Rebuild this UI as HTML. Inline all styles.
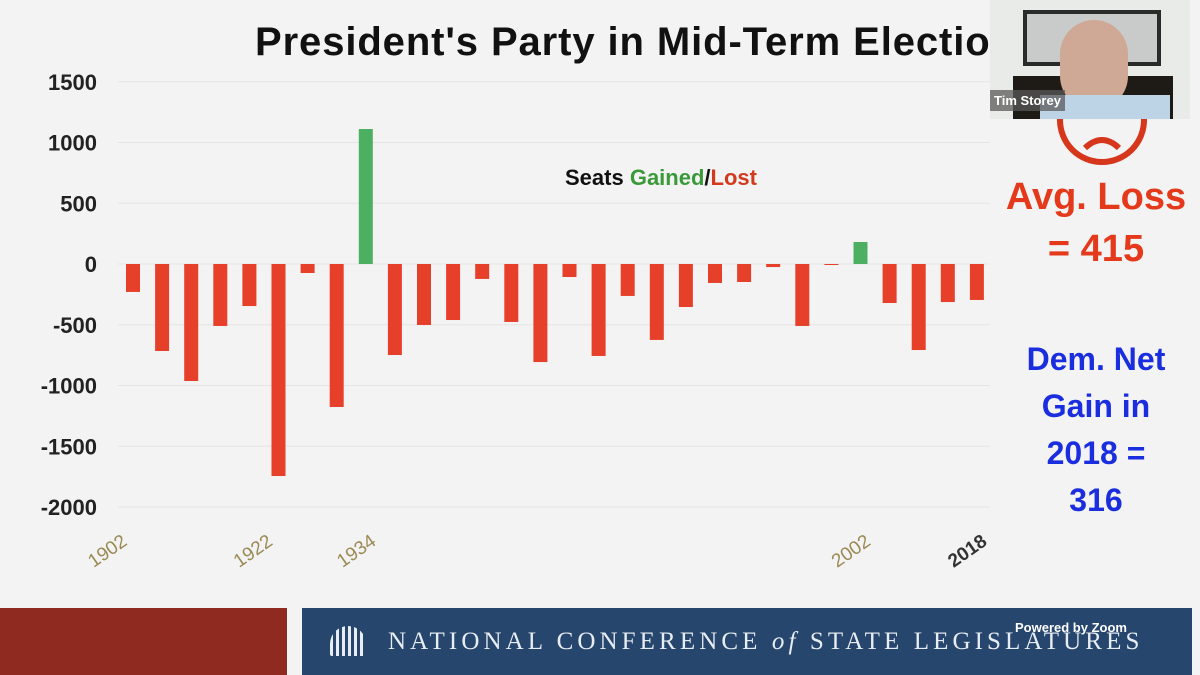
<!DOCTYPE html>
<html><head><meta charset="utf-8"><style>
body{margin:0;width:1200px;height:675px;overflow:hidden;background:#f3f3f3;font-family:"Liberation Sans",sans-serif;}
#root{position:relative;width:1200px;height:675px;}
.t{position:absolute;font-weight:bold;white-space:nowrap;}
</style></head><body><div id="root">
<svg id="chart" width="1200" height="675" style="position:absolute;left:0;top:0"></svg>
<div class="t" style="left:255px;top:20px;width:735px;overflow:hidden;font-size:40px;letter-spacing:0.9px;color:#111;">President's Party in Mid-Term Elections</div>
<div class="t" style="left:565px;top:165px;font-size:22px;color:#111;">Seats <span style="color:#3a9a3a">Gained</span>/<span style="color:#d23a1e">Lost</span></div>
<svg style="position:absolute;left:1055px;top:110px" width="95" height="60"><circle cx="47" cy="10" r="42" fill="none" stroke="#d6361c" stroke-width="6"/><circle cx="33" cy="5" r="3" fill="#d6361c"/><circle cx="61" cy="5" r="3" fill="#d6361c"/><path d="M30 38 Q47 22 64 38" fill="none" stroke="#d6361c" stroke-width="6"/></svg>
<div class="t" style="left:998px;top:171px;width:196px;text-align:center;font-size:38px;line-height:52px;color:#e4391b;">Avg. Loss<br>= 415</div>
<div class="t" style="left:998px;top:336px;width:196px;text-align:center;font-size:32px;line-height:47px;color:#1a2ee0;">Dem. Net<br>Gain in<br>2018 =<br>316</div>
<div style="position:absolute;left:990px;top:0;width:200px;height:119px;background:#e9ebe8;overflow:hidden">
<div style="position:absolute;left:33px;top:10px;width:138px;height:56px;background:#2a2a2a"></div>
<div style="position:absolute;left:37px;top:14px;width:130px;height:48px;background:#c9cbca"></div>
<div style="position:absolute;left:23px;top:76px;width:160px;height:43px;background:#1e1a16"></div>
<div style="position:absolute;left:70px;top:20px;width:68px;height:90px;border-radius:34px;background:#cfa896"></div>
<div style="position:absolute;left:50px;top:95px;width:130px;height:30px;background:#bcd4e6"></div>
<div class="t" style="left:0;top:90px;padding:3px 4px;background:rgba(90,90,90,.75);color:#fff;font-size:13px;">Tim Storey</div>
</div>
<div style="position:absolute;left:0;top:608px;width:287px;height:67px;background:#8e2a1f"></div>
<div style="position:absolute;left:302px;top:608px;width:890px;height:67px;background:#26466d">
<div class="t" style="left:86px;top:20px;font-family:'Liberation Serif',serif;font-weight:normal;font-size:25px;letter-spacing:4.1px;color:#e8edf3;">NATIONAL CONFERENCE <i>of</i> STATE LEGISLATURES</div>
<div class="t" style="left:713px;top:12px;font-size:13px;color:#fff;">Powered by Zoom</div>
<div style="position:absolute;left:28px;top:18px;width:36px;height:30px;border-radius:18px 18px 2px 2px;background:repeating-linear-gradient(90deg,#e8edf3 0 3px,transparent 3px 6px)"></div>
</div>
</div>
<script>
const years=[1902,1906,1910,1914,1918,1922,1926,1930,1934,1938,1942,1946,1950,1954,1958,1962,1966,1970,1974,1978,1982,1986,1990,1994,1998,2002,2006,2010,2014,2018];
const seats=[-230,-716,-963,-510,-346,-1745,-74,-1177,1111,-749,-502,-461,-123,-477,-807,-107,-757,-263,-625,-354,-156,-148,-25,-510,-8,181,-321,-708,-313,-296];
const yTicks=[1500,1000,500,0,-500,-1000,-1500,-2000];
const xLabels=[1902,1922,1934,2002,2018];
const svg=document.getElementById('chart');const NS='http://www.w3.org/2000/svg';
const y=v=>264-v*0.1215;
const x=i=>133+i*29.1;
function mk(t,a){const e=document.createElementNS(NS,t);for(const k in a)e.setAttribute(k,a[k]);svg.appendChild(e);return e;}
yTicks.forEach(v=>{const g=mk('line',{x1:118,x2:990,y1:y(v),y2:y(v),stroke:'#e4e4e4','stroke-width':1});


const t=mk('text',{x:97,y:y(v)+8,'text-anchor':'end','font-size':22,'font-weight':'bold',fill:'#222','font-family':'Liberation Sans, sans-serif'});t.textContent=v;

});
seats.forEach((v,i)=>{const top=Math.min(y(v),y(0)),h=Math.abs(y(v)-y(0));
const r=mk('rect',{x:x(i)-7,y:top,width:14,height:Math.max(h,1),fill:v>0?'#4caf62':'#e6402a'});

});
xLabels.forEach(yr=>{const i=years.indexOf(yr);const cx=x(i)-(yr<1930?22:6),cy=556;
const t=mk('text',{x:cx,y:cy,'text-anchor':'middle','font-size':19,fill:yr===2018?'#333':'#9a8a55','font-weight':yr===2018?'bold':'normal','font-family':'Liberation Sans, sans-serif',transform:`rotate(-35 ${cx} ${cy})`});t.textContent=yr;

});
</script>
</body></html>
